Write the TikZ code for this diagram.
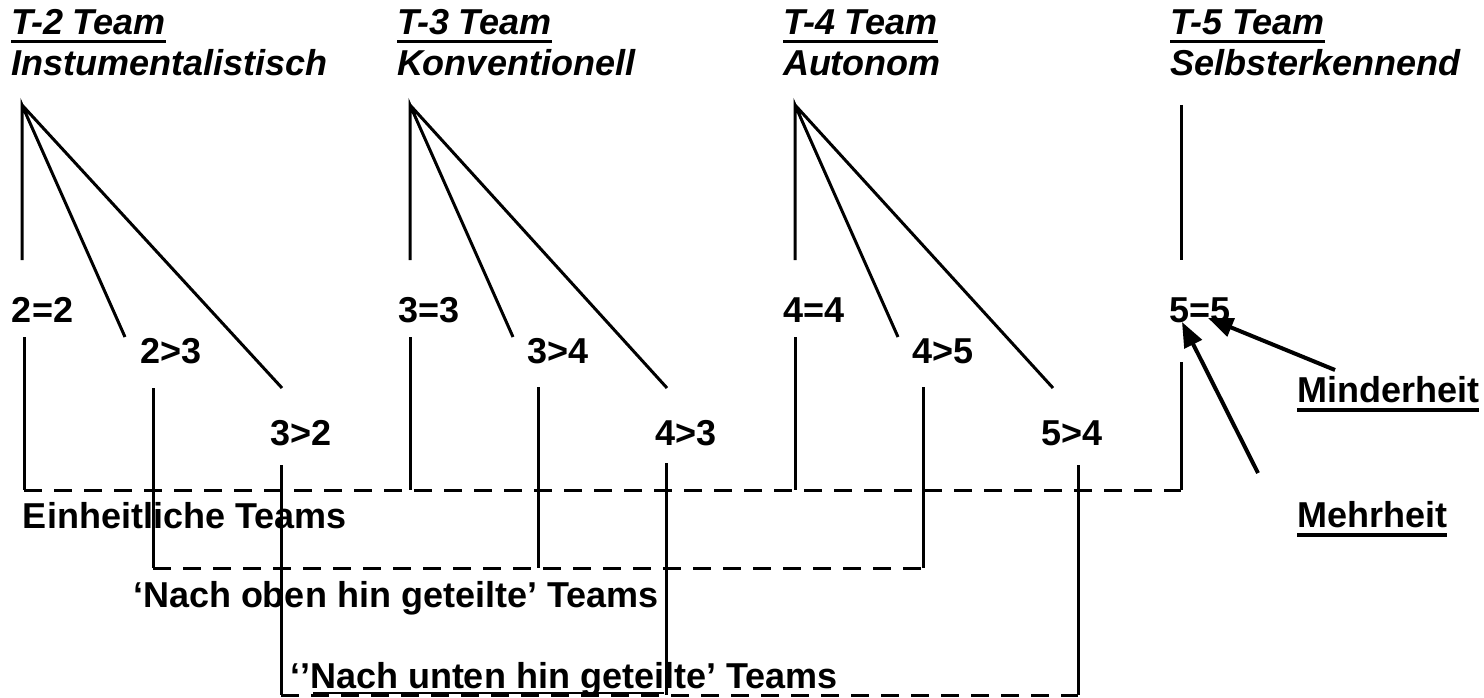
\documentclass[tikz,border=0pt]{standalone}
\usepackage{fontspec}
\setmainfont{Liberation Sans}
\usetikzlibrary{arrows.meta}
\begin{document}
\begin{tikzpicture}[x=1pt,y=-1pt,
  lbl/.style={inner sep=0pt, outer sep=0pt, anchor=base west, font=\fontsize{36}{43}\selectfont\bfseries},
  hd/.style={lbl, font=\fontsize{36}{43}\selectfont\bfseries\itshape},
  ln/.style={line width=3pt},
  dl/.style={line width=3pt, dash pattern=on 18pt off 12pt},
  ulline/.style={line width=3.2pt},
  arr/.style={line width=4pt, -{Triangle[length=25pt,width=19pt]}}]
\useasboundingbox (0,0) rectangle (1484,698);

% headers
\node[hd] (h2a) at (11,35) {T-2 Team};
\node[hd] (h2b) at (11,76) {Instumentalistisch};
\node[hd] (h3a) at (397,35) {T-3 Team};
\node[hd] (h3b) at (397,76) {Konventionell};
\node[hd] (h4a) at (783,35) {T-4 Team};
\node[hd] (h4b) at (783,76) {Autonom};
\node[hd] (h5a) at (1170,35) {T-5 Team};
\node[hd] (h5b) at (1170,76) {Selbsterkennend};
\foreach \n in {h2a,h3a,h4a,h5a}
  \draw[ulline] ([yshift=-6.5pt]\n.base west) -- ([yshift=-6.5pt]\n.base east);

% number labels
\node[lbl] (a22) at (12,322) {2=2};
\node[lbl] (a23) at (140,363) {2>3};
\node[lbl] (a32) at (270,445) {3>2};
\node[lbl] (b33) at (398,322) {3=3};
\node[lbl] (b34) at (527,363) {3>4};
\node[lbl] (b43) at (655,445) {4>3};
\node[lbl] (c44) at (783,322) {4=4};
\node[lbl] (c45) at (912,363) {4>5};
\node[lbl] (c54) at (1041,445) {5>4};
\node[lbl] (d55) at (1169,322) {5=5};

% fan apexes and ends
\coordinate (p2) at (22,105);
\coordinate (p2v) at (22,260);
\coordinate (p2m) at (125,337);
\coordinate (p2r) at (282,388);
\coordinate (p3) at (410,105);
\coordinate (p3v) at (410,260);
\coordinate (p3m) at (513,337);
\coordinate (p3r) at (667,388);
\coordinate (p4) at (795,105);
\coordinate (p4v) at (795,260);
\coordinate (p4m) at (898,337);
\coordinate (p4r) at (1053,388);
\coordinate (p5) at (1181,105);
\coordinate (p5v) at (1181,260);

\draw[ln] (p2v) -- (p2) -- (p2m) (p2) -- (p2r);
\draw[ln] (p3v) -- (p3) -- (p3m) (p3) -- (p3r);
\draw[ln] (p4v) -- (p4) -- (p4m) (p4) -- (p4r);
\draw[ln] (p5) -- (p5v);

% group 1: Einheitliche Teams
\coordinate (e1t) at (24,337);  \coordinate (e1b) at (24,490);
\coordinate (e2t) at (410,337); \coordinate (e2b) at (410,490);
\coordinate (e3t) at (795,337); \coordinate (e3b) at (795,490);
\coordinate (e4t) at (1181,362); \coordinate (e4b) at (1181,490);
\draw[ln] (e1t) -- (e1b) (e2t) -- (e2b) (e3t) -- (e3b) (e4t) -- (e4b);
\draw[dl] (e1b) -- (e4b);

% group 2: nach oben
\coordinate (o1t) at (153,388); \coordinate (o1b) at (153,568);
\coordinate (o2t) at (538,387); \coordinate (o2b) at (538,568);
\coordinate (o3t) at (923,387); \coordinate (o3b) at (923,568);
\draw[ln] (o1t) -- (o1b) (o2t) -- (o2b) (o3t) -- (o3b);
\draw[dl] (o1b) -- (o3b);

% group 3: nach unten
\coordinate (u1t) at (281,465); \coordinate (u1b) at (281,695);
\coordinate (u2t) at (666,463); \coordinate (u2b) at (666,695);
\coordinate (u3t) at (1078,465); \coordinate (u3b) at (1078,695);
\draw[ln] (u1t) -- (u1b) (u2t) -- (u2b) (u3t) -- (u3b);
\draw[dl] (u1b) -- (u3b);

% group labels
\node[lbl] (ein) at (23,528) {Einheitliche Teams};
\node[lbl] (oben) at (133,607) {‘Nach oben hin geteilte’ Teams};
\node[lbl] (unten) at (290,688) {‘’Nach unten hin geteilte’ Teams};
\coordinate (uls) at (313,692.5);
\coordinate (ule) at (664,692.5);
\draw[line width=2pt] (uls) -- (ule);

% Minderheit / Mehrheit
\node[lbl] (mind) at (1297,402) {Minderheit};
\node[lbl] (mehr) at (1297,527) {Mehrheit};
\draw[ulline] ([yshift=-8pt]mind.base west) -- ([yshift=-8pt]mind.base east);
\draw[ulline] ([yshift=-8pt]mehr.base west) -- ([yshift=-8pt]mehr.base east);

\coordinate (mindtail) at (1335,370);
\coordinate (mindtip) at (1208,318);
\coordinate (mehrtail) at (1258,473);
\coordinate (mehrtip) at (1182,322);
\draw[arr] (mindtail) -- (mindtip);
\draw[arr] (mehrtail) -- (mehrtip);
\end{tikzpicture}
\end{document}
